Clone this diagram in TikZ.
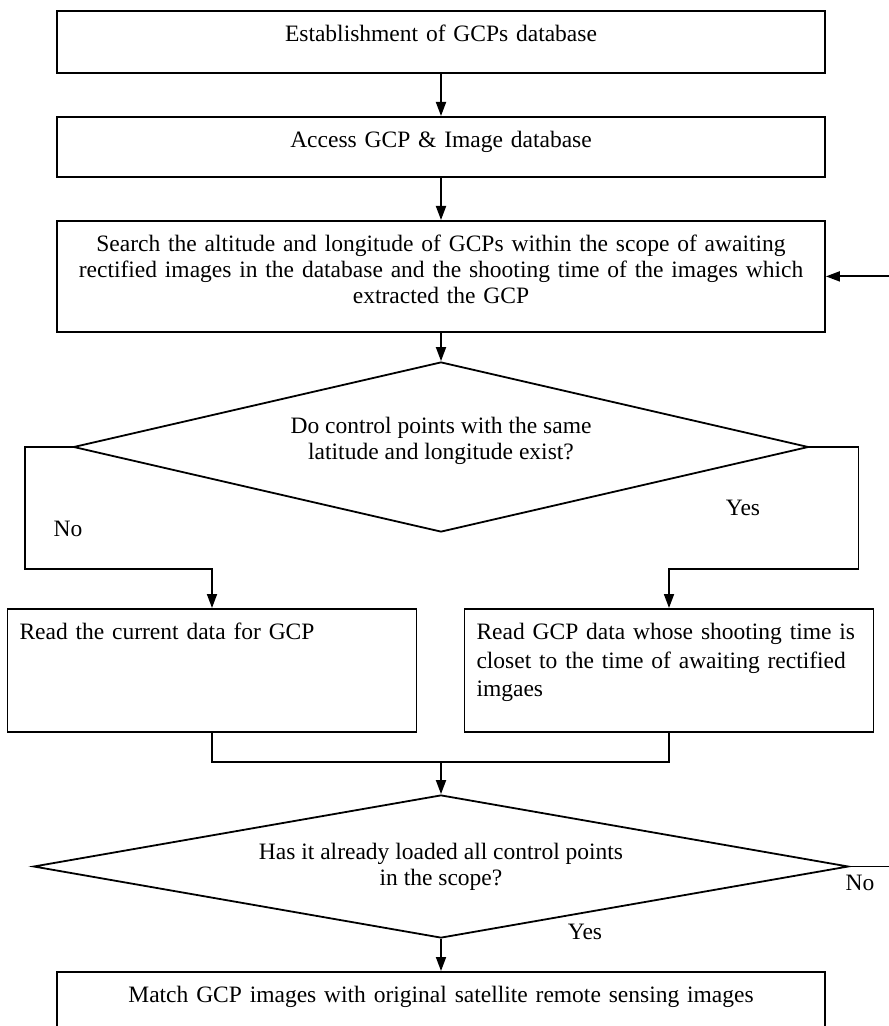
\documentclass[tikz,border=0pt]{standalone}
\usepackage{fontspec}
\setmainfont{Liberation Serif}
\usetikzlibrary{shapes.geometric, arrows.meta}

\begin{document}
\begin{tikzpicture}[x=0.5pt, y=-0.5pt, line width=0.9pt,
    every node/.style={font=\fontsize{11.75pt}{13pt}\selectfont}]
  % Define styles
  \tikzstyle{block} = [rectangle, draw, anchor=north, text width=376pt, inner xsep=4pt, inner ysep=6.5pt, text height=9pt, align=center]
  \tikzstyle{sidebox} = [rectangle, draw, anchor=north, text width=192.5pt, inner xsep=6pt, inner ysep=6.5pt, text height=9pt, align=left]
  \tikzstyle{decision} = [diamond, draw, inner sep=0pt, align=center]
  \tikzstyle{arrow} = [-{Triangle[width=5pt, length=7pt]}]

  \useasboundingbox (0,0) rectangle (888,1026);

  % Step 1: database and search
  \node[block, text depth=9pt] (gcpdb) at (441,10) {Establishment of GCPs database};
  \node[block, text depth=8pt] (access) at (441,116) {Access GCP \& Image database};
  \node[block, text depth=33.5pt] (search) at (441,220) {Search the altitude and longitude of GCPs within the scope of awaiting\\rectified images in the database and the shooting time of the images which\\extracted the GCP};

  % Step 2: same position check
  \node[decision, aspect=4.3, minimum width=367.5pt, minimum height=85pt, text depth=9pt] (samepos) at (441,447) {Do control points with the same\\latitude and longitude exist?};
  \node[sidebox, text depth=39.5pt] (curdata) at (212,608) {Read the current data for GCP};
  \node[sidebox, text depth=39.5pt, font=\fontsize{11.75pt}{14.2pt}\selectfont] (readgcp) at (669,608) {Read GCP data whose shooting time is\\closet to the time of awaiting rectified\\imgaes};
  \coordinate (merge) at (441,762);

  % Step 3: loaded check and matching
  \node[decision, aspect=5.7, minimum width=407.5pt, minimum height=71.5pt] (loaded) at (441,866.5) {Has it already loaded all control points\\in the scope?};
  \node[block, text depth=13pt] (match) at (441,971) {Match GCP images with original satellite remote sensing images};

  % Arrows: main line
  \draw[arrow] (gcpdb) -- (access);
  \draw[arrow] (access) -- (search);
  \draw[arrow] (search) -- (samepos);

  % Arrows: branches
  \draw[arrow] (samepos.west) -| ++(-48,122) -| (curdata.north);
  \draw[arrow] (samepos.east) -| ++(49,122) -| (readgcp.north);
  \draw (curdata.south) |- (merge) -| (readgcp.south);
  \draw[arrow] (merge) -- (loaded.north);
  \draw[arrow] (loaded.south) -- (match.north);

  % Feedback loop
  \draw[arrow] (loaded.east) -- ++(46,0) |- (search.east);

  % Labels
  \node (nofirst) at (68,529) {No};
  \node (yesfirst) at (743,508) {Yes};
  \node (nosecond) at (860,883) {No};
  \node (yessecond) at (585,932) {Yes};
\end{tikzpicture}
\end{document}
